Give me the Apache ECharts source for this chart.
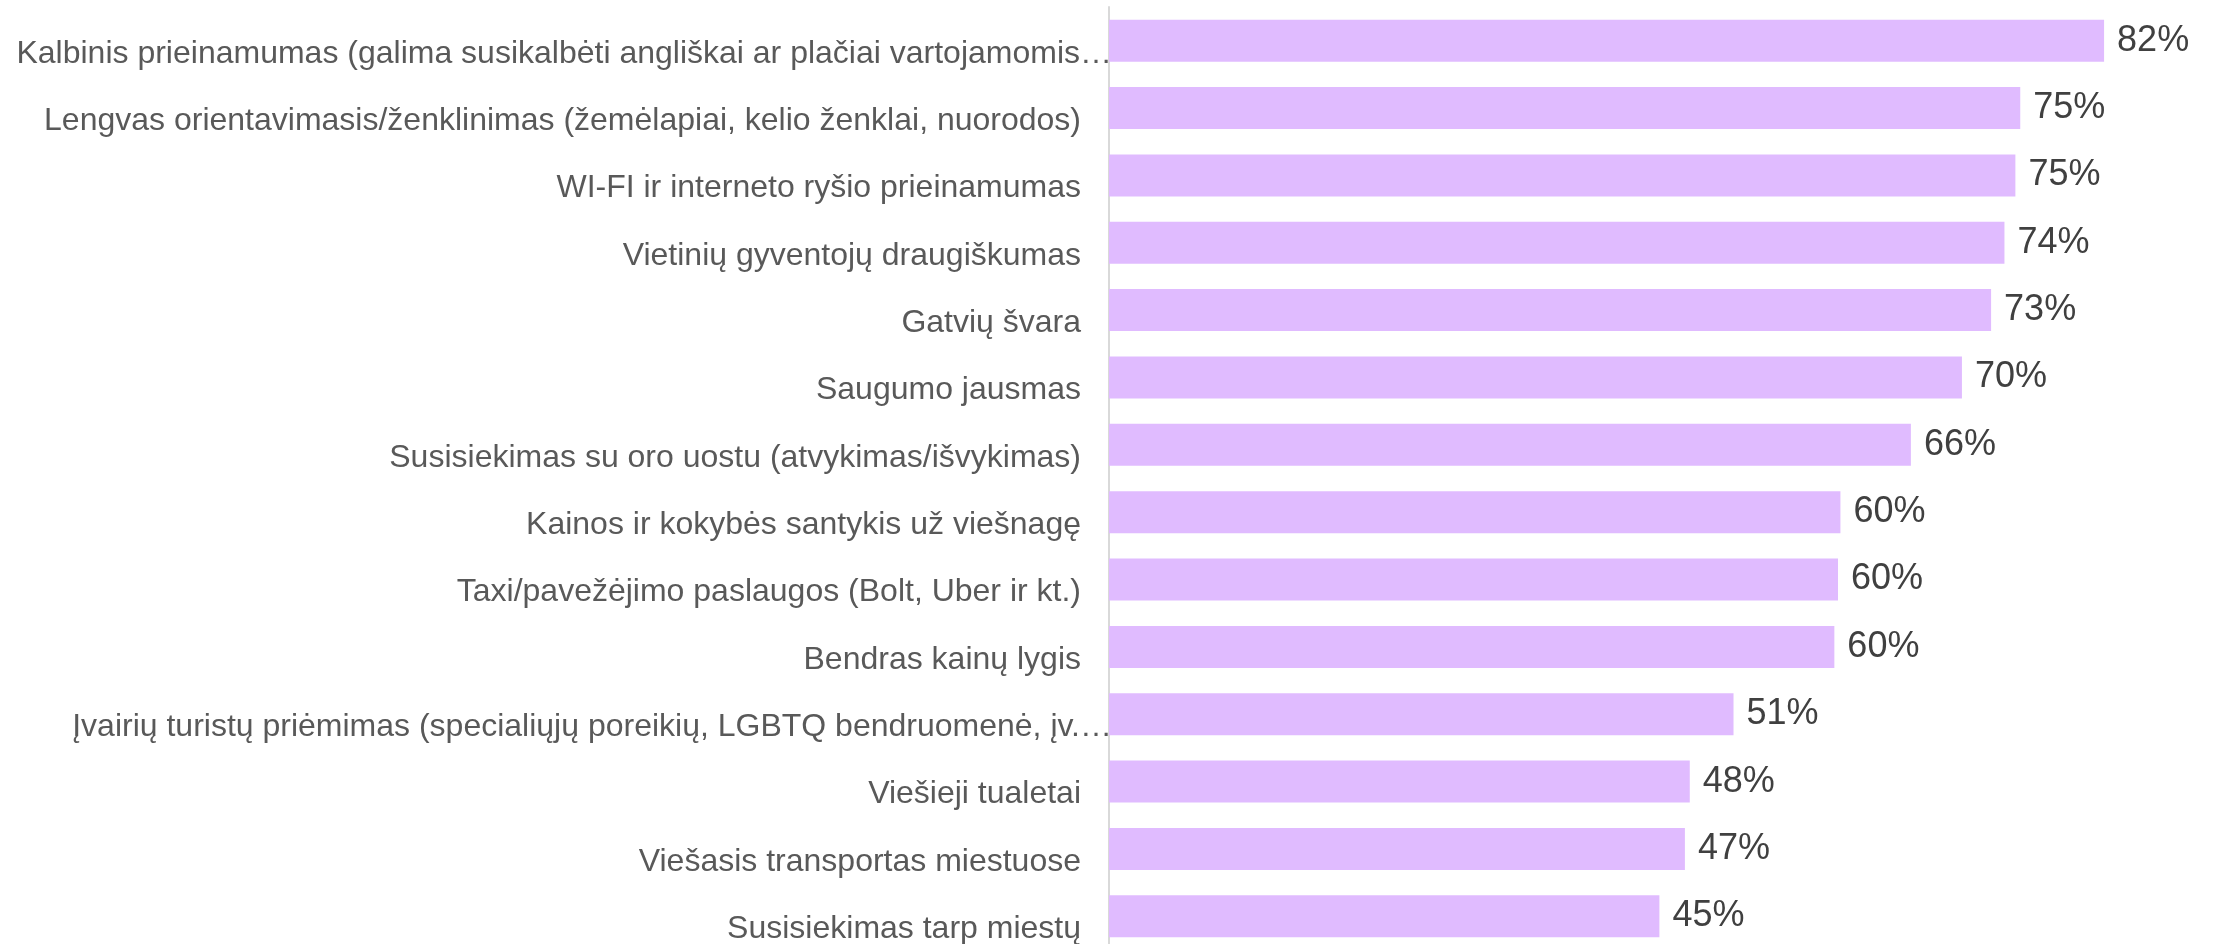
<!DOCTYPE html>
<html>
<head>
<meta charset="utf-8">
<title>Vertinimai</title>
<script src="https://cdn.jsdelivr.net/npm/echarts@6/dist/echarts.min.js"></script>
<style>
  html, body { margin: 0; padding: 0; background: #fff; }
  #chart { width: 2219px; height: 944px; }
</style>
</head>
<body>
<div id="chart"></div>
<script>
  // kategorijos (iš viršaus į apačią), trumpinti pavadinimai kaip originale
  const categories = [
    'Kalbinis prieinamumas (galima susikalbėti angliškai ar plačiai vartojamomis…',
    'Lengvas orientavimasis/ženklinimas (žemėlapiai, kelio ženklai, nuorodos)',
    'WI-FI ir interneto ryšio prieinamumas',
    'Vietinių gyventojų draugiškumas',
    'Gatvių švara',
    'Saugumo jausmas',
    'Susisiekimas su oro uostu (atvykimas/išvykimas)',
    'Kainos ir kokybės santykis už viešnagę',
    'Taxi/pavežėjimo paslaugos (Bolt, Uber ir kt.)',
    'Bendras kainų lygis',
    'Įvairių turistų priėmimas (specialiųjų poreikių, LGBTQ bendruomenė, įv.…',
    'Viešieji tualetai',
    'Viešasis transportas miestuose',
    'Susisiekimas tarp miestų'
  ];

  // procentai
  const values = [81.9, 75.0, 74.6, 73.7, 72.6, 70.2, 66.0, 60.2, 60.0, 59.7, 51.4, 47.8, 47.4, 45.3];

  const barColor = '#e0bbff';

  let myChart = echarts.init(document.getElementById('chart'));

  let option = {
    backgroundColor: '#fff',
    animation: false,
    textStyle: { fontFamily: '"Liberation Sans", Arial, sans-serif' },
    grid: {
      left: 1109,
      right: 16.5,
      top: 7,
      height: 943,
      outerBoundsMode: 'none'
    },
    xAxis: {
      type: 'value',
      min: 0,
      max: 90,
      show: false
    },
    yAxis: {
      type: 'category',
      inverse: true,
      data: categories,
      axisTick: { show: false },
      axisLine: { show: true, lineStyle: { color: '#d9d9d9', width: 2 } },
      axisLabel: {
        fontSize: 32,
        color: '#595959',
        margin: 28,
        padding: [26, 0, 0, 0],
        // daugtaškis neįskaičiuojamas į pločio lygiavimą (kaip originale)
        formatter: (v) => {
          if (v.endsWith('…')) {
            return '{t|' + v.slice(0, -1) + '}{e|…}'
          }
          return '{t|' + v + '}'
        },
        rich: {
          t: { fontSize: 32, color: '#595959', align: 'left' },
          e: { fontSize: 32, color: '#595959', align: 'left', width: 1 }
        }
      }
    },
    series: [{
      type: 'bar',
      data: values,
      barWidth: 42,
      itemStyle: { color: barColor },
      label: {
        show: true,
        position: 'right',
        distance: 13,
        fontSize: 36,
        color: '#404040',
        padding: [6, 0, 0, 0],
        formatter: (p) => Math.round(p.value) + '%'
      }
    }]
  };

  myChart.setOption(option);
  window.addEventListener('resize', function () { myChart.resize() });
</script>
</body>
</html>
